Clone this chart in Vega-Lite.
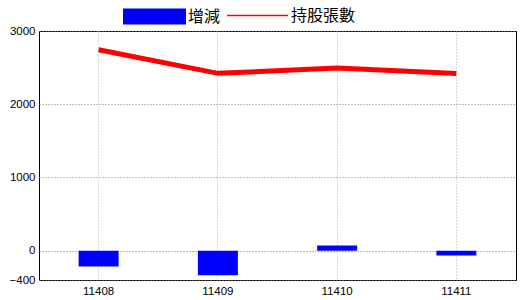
{
  "$schema": "https://vega.github.io/schema/vega-lite/v6.json",
  "autosize": {"type": "none"},
  "width": 477,
  "height": 249,
  "padding": {"left": 39, "top": 31, "right": 4, "bottom": 20},
  "background": "white",
  "config": {
    "view": {"stroke": "black", "strokeWidth": 1},
    "axis": {"labelFont": "Liberation Sans", "labelFontSize": 11.5, "labelColor": "black", "domain": false, "ticks": false, "title": null},
    "legend": {"padding": 0, "labelFont": "Noto Sans CJK TC", "labelFontSize": 16, "labelColor": "black", "title": null, "orient": "none"}
  },
  "data": {
    "values": [
      {"month": "11408", "change": -214, "holding": 2744},
      {"month": "11409", "change": -336, "holding": 2422},
      {"month": "11410", "change": 72, "holding": 2494},
      {"month": "11411", "change": -64, "holding": 2420}
    ]
  },
  "encoding": {
    "x": {
      "field": "month", "type": "nominal", "sort": null,
      "scale": {"paddingInner": 0, "paddingOuter": 0},
      "axis": {"labelAngle": 0, "labelPadding": 5, "grid": true, "bandPosition": 0.5, "gridColor": "#9fb8cf", "gridDash": [1, 2], "gridWidth": 1}
    }
  },
  "layer": [
    {
      "mark": {"type": "bar", "width": 40},
      "encoding": {
        "y": {
          "field": "change", "type": "quantitative",
          "scale": {"domain": [-400, 3000], "nice": false, "zero": false},
          "axis": {"values": [-400, 0, 1000, 2000, 3000], "format": "d", "labelPadding": 4, "grid": true, "gridColor": "#808080", "gridDash": [1, 2], "gridWidth": 1}
        },
        "fill": {
          "datum": "增減",
          "scale": {"range": ["#0000ff"]},
          "legend": {"legendX": 83, "legendY": -47, "symbolType": "M-1,-0.254H1V0.254H-1Z", "symbolSize": 3969, "symbolOpacity": 1, "labelOffset": 1}
        }
      }
    },
    {
      "mark": {"type": "rule", "color": "black", "strokeWidth": 1},
      "encoding": {"y": {"datum": 0, "type": "quantitative"}}
    },
    {
      "mark": {"type": "line", "strokeWidth": 5},
      "encoding": {
        "y": {"field": "holding", "type": "quantitative"},
        "stroke": {
          "datum": "持股張數",
          "scale": {"range": ["#ff0000"]},
          "legend": {"legendX": 187, "legendY": -47, "symbolType": "stroke", "symbolSize": 3721, "symbolStrokeWidth": 1.5, "labelOffset": 2}
        }
      }
    }
  ]
}
